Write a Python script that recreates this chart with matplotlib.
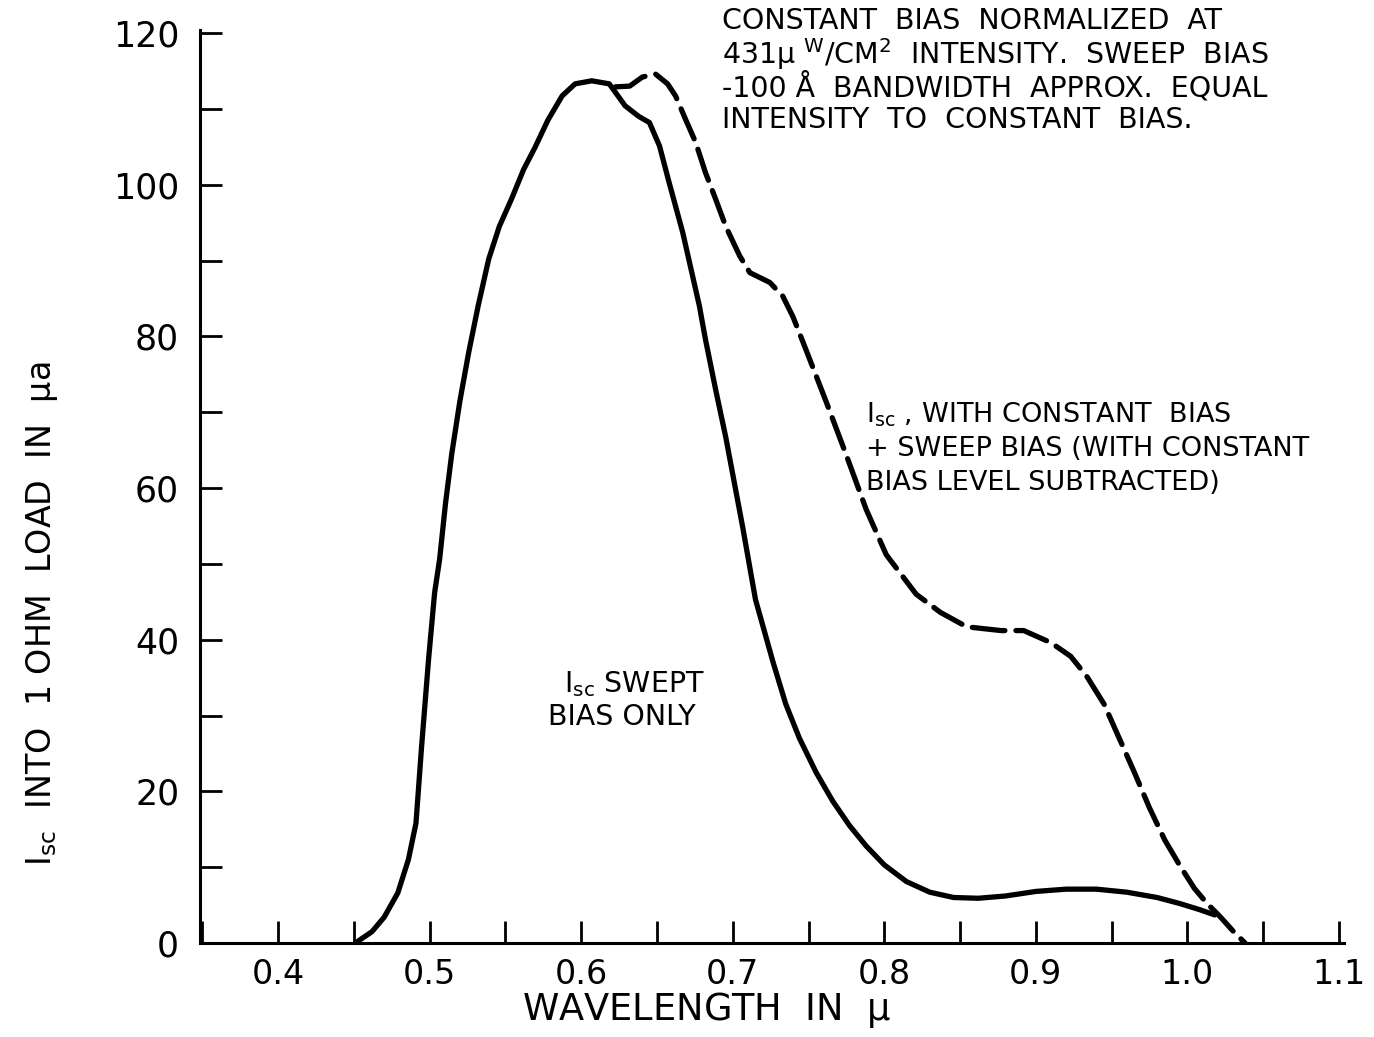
import matplotlib
matplotlib.use("Agg")
import matplotlib.pyplot as plt
from matplotlib.ticker import MultipleLocator

plt.rcParams["font.family"] = ["DejaVu Sans"]
plt.rcParams["mathtext.default"] = "regular"

# I_sc, swept bias only (solid curve)
swept_wl = [0.451, 0.462, 0.470, 0.479, 0.486, 0.491, 0.4947, 0.4993, 0.5033, 0.5066,
            0.5105, 0.5146, 0.520, 0.5258, 0.532, 0.539, 0.546, 0.554, 0.562, 0.5695,
            0.578, 0.5874, 0.596, 0.607, 0.6185, 0.6225, 0.629, 0.638, 0.645, 0.6517,
            0.658, 0.667, 0.678, 0.682, 0.6887, 0.6954, 0.7066, 0.715, 0.7265, 0.735,
            0.744, 0.755, 0.766, 0.777, 0.788, 0.800, 0.8146, 0.830, 0.8457, 0.862,
            0.880, 0.900, 0.920, 0.940, 0.960, 0.980, 0.995, 1.008, 1.018]
swept_isc = [0.0, 1.5, 3.4, 6.6, 11.0, 15.8, 25.9, 37.4, 46.2, 50.6,
             58.0, 64.5, 71.5, 77.9, 84.0, 90.2, 94.5, 98.1, 102.0, 104.9,
             108.5, 111.7, 113.3, 113.7, 113.3, 112.2, 110.4, 109.0, 108.2, 105.1,
             100.3, 93.7, 84.0, 79.6, 73.0, 66.7, 54.8, 45.3, 37.1, 31.5,
             27.0, 22.5, 18.7, 15.5, 12.8, 10.3, 8.1, 6.7, 6.0, 5.9,
             6.2, 6.8, 7.1, 7.1, 6.7, 6.0, 5.2, 4.4, 3.7]

# I_sc with constant bias + sweep bias, constant level subtracted (dashed curve)
biased_wl = [0.6225, 0.632, 0.6404, 0.649, 0.657, 0.6623, 0.6689, 0.6755, 0.682, 0.6887,
             0.6954, 0.7046, 0.7113, 0.7245, 0.733, 0.7397, 0.748, 0.7616, 0.775, 0.788,
             0.8013, 0.821, 0.837, 0.8543, 0.877, 0.892, 0.910, 0.923, 0.9338, 0.945,
             0.955, 0.965, 0.975, 0.985, 0.995, 1.0046, 1.013, 1.021, 1.030, 1.038]
biased_isc = [112.9, 113.0, 114.2, 114.6, 113.3, 111.7, 108.6, 105.6, 101.6, 98.1,
              94.5, 90.6, 88.4, 87.1, 85.3, 82.6, 78.4, 71.4, 64.3, 57.2,
              51.2, 46.0, 43.6, 41.7, 41.2, 41.2, 39.6, 37.8, 35.1, 31.5,
              27.0, 22.5, 17.8, 13.6, 10.2, 7.2, 5.2, 3.6, 1.6, 0.0]

x_major = [0.4, 0.5, 0.6, 0.7, 0.8, 0.9, 1.0, 1.1]
x_labels = ["0.4", "0.5", "0.6", "0.7", "0.8", "0.9", "1.0", "1.1"]
y_major = [0, 20, 40, 60, 80, 100, 120]

W, H = 1374, 1037
fig = plt.figure(figsize=(W / 100, H / 100), dpi=100)
ax = fig.add_axes([200 / W, 1 - 943 / H, (1344 - 200) / W, (943 - 30) / H])


def fx(px):
    return px / W


def fy(py):
    return 1 - py / H


ax.plot(swept_wl, swept_isc, color="black", lw=3.8, solid_capstyle="round",
        solid_joinstyle="round")
ax.plot(biased_wl, biased_isc, color="black", lw=3.8, dashes=(6.2, 2.1),
        dash_capstyle="round", dash_joinstyle="round")

ax.set_xlim(0.3485, 1.1033)
ax.set_ylim(0, 120.4)
ax.spines["top"].set_visible(False)
ax.spines["right"].set_visible(False)
for side in ("left", "bottom"):
    ax.spines[side].set_linewidth(2.2)

ax.set_xticks(x_major)
ax.set_xticklabels(x_labels)
ax.xaxis.set_minor_locator(MultipleLocator(0.05))
ax.set_yticks(y_major)
ax.yaxis.set_minor_locator(MultipleLocator(10))
ax.tick_params(which="both", direction="in", length=16, width=2.0)
ax.tick_params(axis="x", which="both", pad=11, labelsize=24)
ax.tick_params(axis="y", which="both", pad=15, labelsize=25)

fig.text(fx(707), fy(1010), "WAVELENGTH  IN  $\\mu$", fontsize=26.5,
         ha="center", va="center")
fig.text(fx(42), fy(614), "I$_{sc}$  INTO  1 OHM  LOAD  IN  $\\mu$a", fontsize=24,
         rotation=90, ha="center", va="center")

note_lines = [
    "CONSTANT  BIAS  NORMALIZED  AT",
    "431$\\mu$ $^{W}$/CM$^{2}$  INTENSITY.  SWEEP  BIAS",
    "-100 \u00c5  BANDWIDTH  APPROX.  EQUAL",
    "INTENSITY  TO  CONSTANT  BIAS.",
]
for i, line in enumerate(note_lines):
    fig.text(fx(722), fy(21 + 33 * i), line, fontsize=20.5, ha="left", va="center")

biased_lines = [
    "I$_{sc}$ , WITH CONSTANT  BIAS",
    "+ SWEEP BIAS (WITH CONSTANT",
    "BIAS LEVEL SUBTRACTED)",
]
for i, line in enumerate(biased_lines):
    fig.text(fx(866), fy(415 + 34 * i), line, fontsize=19.5, ha="left", va="center")

fig.text(fx(634), fy(684), "I$_{sc}$ SWEPT", fontsize=20.5, ha="center", va="center")
fig.text(fx(622), fy(717), "BIAS ONLY", fontsize=20.5, ha="center", va="center")

fig.savefig("out.png", dpi=100, facecolor="white")
